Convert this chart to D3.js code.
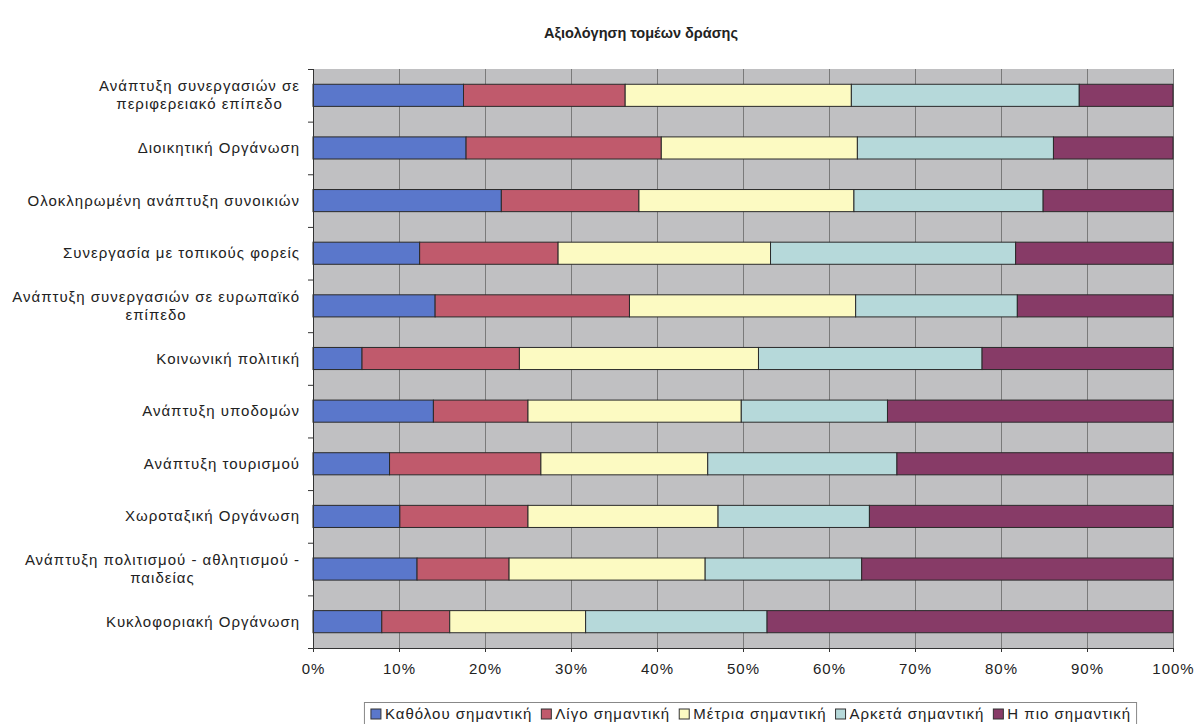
<!DOCTYPE html>
<html><head><meta charset="utf-8">
<script src="https://cdn.jsdelivr.net/npm/d3@7"></script>
<style>body{margin:0;background:#fff}svg{display:block}</style>
</head><body><svg id="c" width="1195" height="724"></svg>
<script>
const title = "Αξιολόγηση τομέων δράσης";
const categories = [
  ["Ανάπτυξη συνεργασιών σε", "περιφερειακό επίπεδο"],
  ["Διοικητική Οργάνωση"],
  ["Ολοκληρωμένη ανάπτυξη συνοικιών"],
  ["Συνεργασία με τοπικούς φορείς"],
  ["Ανάπτυξη συνεργασιών σε ευρωπαϊκό", "επίπεδο"],
  ["Κοινωνική πολιτική"],
  ["Ανάπτυξη υποδομών"],
  ["Ανάπτυξη τουρισμού"],
  ["Χωροταξική Οργάνωση"],
  ["Ανάπτυξη πολιτισμού - αθλητισμού -", "παιδείας"],
  ["Κυκλοφοριακή Οργάνωση"]
];
const seriesNames = ["Καθόλου σημαντική", "Λίγο σημαντική", "Μέτρια σημαντική", "Αρκετά σημαντική", "Η πιο σημαντική"];
const katholou = [17.5, 17.8, 21.9, 12.4, 14.2, 5.7, 14.0, 8.9, 10.1, 12.1, 8.0];
const ligo     = [18.8, 22.7, 16.0, 16.1, 22.6, 18.3, 11.0, 17.6, 14.9, 10.7, 7.9];
const metria   = [26.3, 22.8, 25.0, 24.7, 26.3, 27.8, 24.8, 19.4, 22.1, 22.8, 15.8];
const arketa   = [26.5, 22.8, 22.0, 28.5, 18.8, 26.0, 17.0, 22.0, 17.6, 18.2, 21.1];
const pio      = [10.9, 13.9, 15.1, 18.3, 18.1, 22.2, 33.2, 32.1, 35.3, 36.2, 47.2];
const xTicks = [0, 10, 20, 30, 40, 50, 60, 70, 80, 90, 100];
const colors = ["#5a77cb", "#c05a6c", "#fcfac2", "#b6d9da", "#873b67"];

const seriesValues = [katholou, ligo, metria, arketa, pio];
const rows = categories.map((c, i) => {
  const o = {idx: i};
  const tot = d3.sum(seriesValues, s => s[i]);
  seriesValues.forEach((s, k) => o["s" + k] = s[i] / tot * 100);
  return o;
});
const keys = seriesNames.map((_, k) => "s" + k);
const stacked = d3.stack().keys(keys)(rows);

const svg = d3.select("#c");
const font = "'Liberation Sans', Arial, sans-serif";
const FS = 15, LS = 1;
const L = 313, R = 1173, T = 69, B = 648;
const x = d3.scaleLinear().domain([0, 100]).range([L, R]);
const y = d3.scaleBand().domain(d3.range(categories.length)).range([T, B]).paddingInner(0.58).paddingOuter(0.29);
const yb = d3.scaleBand().domain(d3.range(categories.length)).range([T, B]);

svg.append("text").attr("x", 641).attr("y", 38).attr("text-anchor", "middle")
  .attr("font-family", font).attr("font-weight", "bold").attr("font-size", 14.5).attr("fill", "#222").text(title);

svg.append("rect").attr("x", L).attr("y", T).attr("width", R - L).attr("height", B - T).attr("fill", "#c0c0c2");

// gridlines
svg.append("g").selectAll("line").data(xTicks.slice(1)).join("line")
  .attr("x1", d => x(d) + 0.5).attr("x2", d => x(d) + 0.5).attr("y1", T).attr("y2", B)
  .attr("stroke", "#7a7a7a").attr("stroke-width", 1);

// bars
svg.append("g").selectAll("g").data(stacked).join("g")
  .attr("fill", (d, k) => colors[k])
  .selectAll("rect").data(d => d).join("rect")
  .attr("x", d => x(d[0])).attr("width", d => x(d[1]) - x(d[0]))
  .attr("y", d => y(d.data.idx)).attr("height", y.bandwidth())
  .attr("stroke", "#2a2a2a").attr("stroke-width", 1);

// x axis
const xa = svg.append("g").attr("transform", `translate(0,${B})`)
  .call(d3.axisBottom(x).tickValues(xTicks).tickFormat(d => d + "%").tickSize(4).tickPadding(11).tickSizeOuter(0));
xa.select(".domain").attr("stroke", "#333");
xa.selectAll(".tick line").attr("stroke", "#333");
xa.selectAll("text").attr("font-family", font).attr("font-size", FS).attr("letter-spacing", LS).attr("fill", "#222");

// y axis line and ticks at band boundaries
svg.append("line").attr("x1", L + 0.5).attr("x2", L + 0.5).attr("y1", T).attr("y2", B).attr("stroke", "#333");
svg.append("g").selectAll("line").data(d3.range(categories.length + 1)).join("line")
  .attr("x1", L - 5).attr("x2", L).attr("y1", d => T + d * yb.step() + 0.5).attr("y2", d => T + d * yb.step() + 0.5)
  .attr("stroke", "#333");

// category labels
const lab = svg.append("g").attr("font-family", font).attr("font-size", FS).attr("letter-spacing", LS).attr("fill", "#222");
categories.forEach((lines, i) => {
  const cy = yb(i) + yb.bandwidth() / 2;
  const g = lab.append("g");
  const ts = lines.map((t, j) => g.append("text").text(t)
    .attr("y", cy + 5 + (j - (lines.length - 1) / 2) * 18));
  const w = d3.max(ts, t => t.node().getComputedTextLength());
  ts.forEach(t => t.attr("x", 300 - w / 2).attr("text-anchor", "middle"));
});

// legend
const lg = svg.append("g").attr("font-family", font).attr("font-size", FS).attr("letter-spacing", LS).attr("fill", "#222");
const GAP = 9;
let cx = 0;
const items = seriesNames.map((n, k) => {
  const g = lg.append("g");
  g.append("rect").attr("x", 0).attr("y", -10).attr("width", 10).attr("height", 10)
    .attr("fill", colors[k]).attr("stroke", "#333").attr("stroke-width", 1);
  const t = g.append("text").attr("x", 14).attr("y", 0).text(n);
  const w = 14 + t.node().getComputedTextLength();
  const ox = cx; cx += w + GAP;
  return {g, ox};
});
const totalW = cx - GAP;
const lx = 751 - totalW / 2;
items.forEach(it => it.g.attr("transform", `translate(${lx + it.ox},${719})`));
svg.append("rect").attr("x", lx - 6.5).attr("y", 702.5).attr("width", totalW + 12).attr("height", 30)
  .attr("fill", "none").attr("stroke", "#888");
</script></body></html>
